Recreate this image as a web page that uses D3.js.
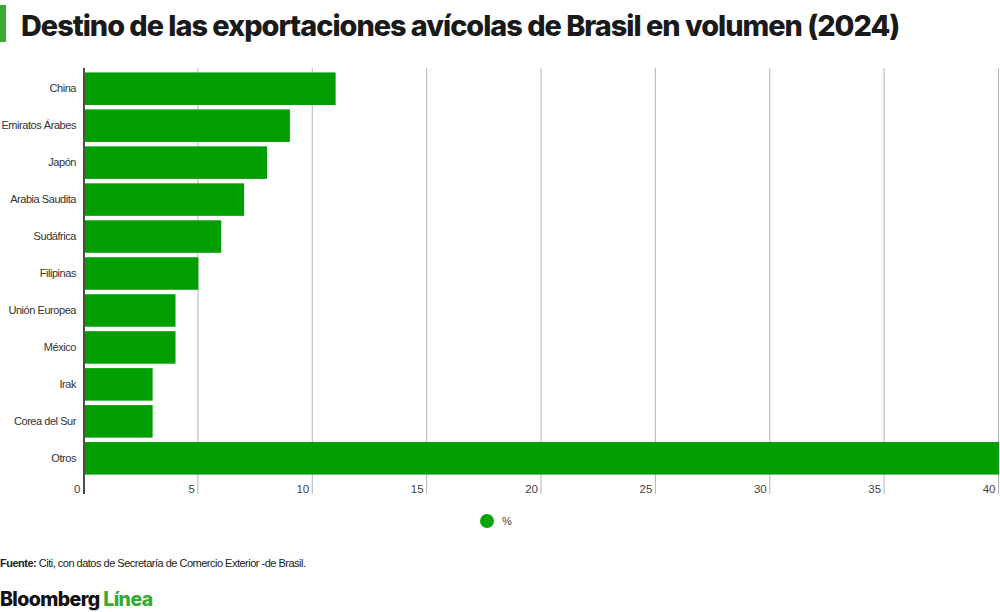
<!DOCTYPE html>
<html>
<head>
<meta charset="utf-8">
<script src="https://cdn.jsdelivr.net/npm/d3@7"></script>
<style>
  body { margin: 0; background: #fff; }
  svg { display: block; font-family: "Liberation Sans", Arial, sans-serif; }
</style>
</head>
<body>
<script>
// destinos y participación (%)
const categories = ["China", "Emiratos Árabes", "Japón", "Arabia Saudita", "Sudáfrica",
  "Filipinas", "Unión Europea", "México", "Irak", "Corea del Sur", "Otros"];
const values = [11, 9, 8, 7, 6, 5, 4, 4, 3, 3, 40];
const xTicks = [0, 5, 10, 15, 20, 25, 30, 35, 40];

const width = 1000, height = 612;
const margin = {top: 68, right: 1, bottom: 133, left: 84};

const data = categories.map((c, i) => ({name: c, value: values[i]}));

const x = d3.scaleLinear()
    .domain([0, 40])
    .range([margin.left, width - margin.right]);

const y = d3.scaleBand()
    .domain(categories)
    .range([margin.top, height - margin.bottom])
    .paddingInner(0.12)
    .paddingOuter(0.12);

const svg = d3.select("body").append("svg")
    .attr("width", width)
    .attr("height", height)
    .attr("viewBox", [0, 0, width, height]);

// title
svg.append("rect")
    .attr("x", 0).attr("y", 5)
    .attr("width", 6).attr("height", 37)
    .attr("fill", "#3aaa35");

const title = svg.append("text")
    .attr("x", 21).attr("y", 36)
    .attr("font-family", "Inter, 'Liberation Sans', sans-serif")
    .attr("font-size", 30)
    .attr("font-weight", 800)
    .attr("letter-spacing", -1)
    .attr("fill", "#1a1a1a")
    .text("Destino de las exportaciones avícolas de Brasil en volumen (2024)");
// fit to the reference width by adjusting font size
const tw = title.node().getComputedTextLength();
title.attr("font-size", 30 * 881 / tw);

// grid + x axis
const axisBottomY = 494;
const xAxis = g => g
    .attr("transform", `translate(0,${axisBottomY})`)
    .call(d3.axisBottom(x).tickValues(xTicks).tickSize(0).tickFormat(d3.format("d")))
    .call(g => g.select(".domain").remove())
    .call(g => g.selectAll(".tick text")
        .attr("text-anchor", "end")
        .attr("x", -4)
        .attr("y", -1)
        .attr("dy", 0)
        .attr("font-size", 11.5)
        .attr("fill", "#444"));

svg.append("g")
    .selectAll("line")
    .data(xTicks.filter(d => d > 0))
    .join("line")
      .attr("x1", d => x(d) - 0.5)
      .attr("x2", d => x(d) - 0.5)
      .attr("y1", margin.top)
      .attr("y2", axisBottomY)
      .attr("stroke", "#b5b5b5")
      .attr("stroke-width", 1);

svg.append("g").call(xAxis);

// bars
svg.append("g")
    .attr("fill", "#009e00")
  .selectAll("rect")
  .data(data)
  .join("rect")
    .attr("x", x(0) + 1)
    .attr("y", d => y(d.name))
    .attr("width", d => Math.min(x(d.value), width) - x(0) - 1)
    .attr("height", y.bandwidth());

// y axis
const yAxis = g => g
    .attr("transform", `translate(${margin.left},0)`)
    .call(d3.axisLeft(y).tickSize(0).tickPadding(8))
    .call(g => g.select(".domain").remove())
    .call(g => g.selectAll(".tick text")
        .attr("font-size", 11)
        .attr("letter-spacing", -0.45)
        .attr("fill", "#333"));

svg.append("g").call(yAxis);

svg.append("line")
    .attr("x1", x(0)).attr("x2", x(0))
    .attr("y1", margin.top).attr("y2", axisBottomY)
    .attr("stroke", "#111").attr("stroke-width", 1.5);

// legend
svg.append("circle")
    .attr("cx", 487).attr("cy", 521)
    .attr("r", 7)
    .attr("fill", "#0aa50a");
svg.append("text")
    .attr("x", 502).attr("y", 525)
    .attr("font-size", 11)
    .attr("fill", "#444")
    .text("%");

// footer
const src = svg.append("text")
    .attr("x", 0).attr("y", 567)
    .attr("font-size", 11)
    .attr("fill", "#222")
    .attr("letter-spacing", -0.5);
src.append("tspan").attr("font-weight", "bold").text("Fuente:");
src.append("tspan").text(" Citi, con datos de Secretaría de Comercio Exterior -de Brasil.");

const logo = svg.append("text")
    .attr("x", 0).attr("y", 606)
    .attr("font-family", "Inter, 'Liberation Sans', sans-serif")
    .attr("font-size", 19.5)
    .attr("font-weight", 800)
    .attr("letter-spacing", -0.6);
logo.append("tspan").attr("fill", "#111").text("Bloomberg");
logo.append("tspan").attr("fill", "#3aaa35").text(" Línea");
</script>
</body>
</html>
